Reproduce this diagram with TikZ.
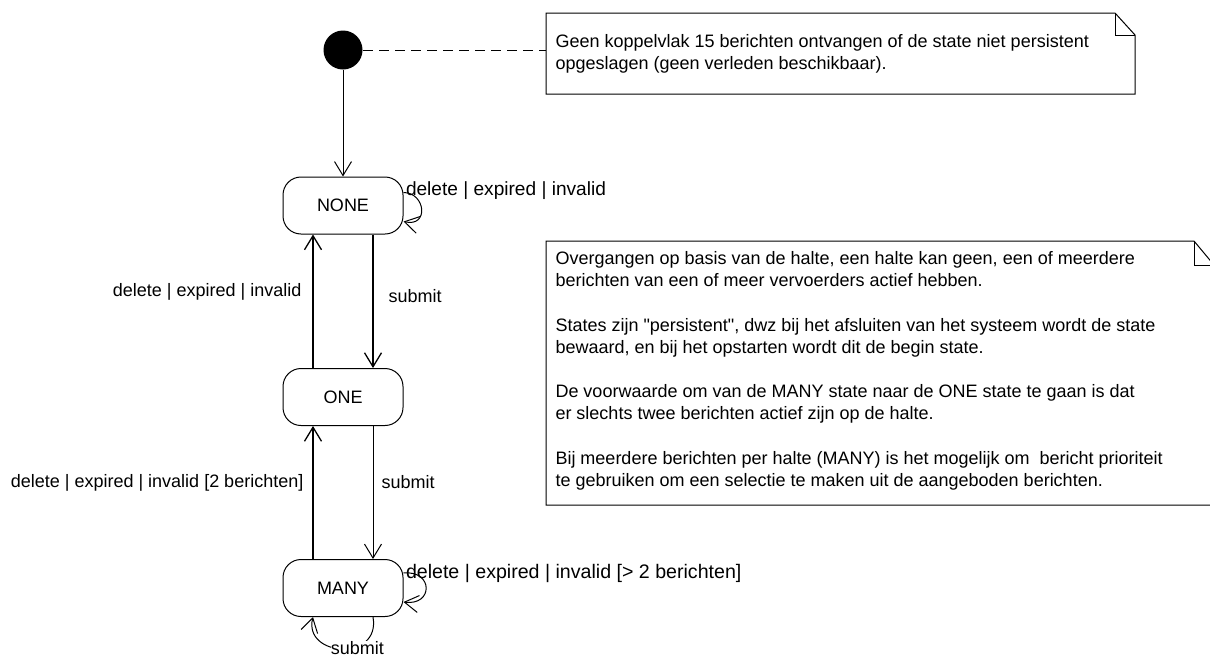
\documentclass[tikz,border=0pt]{standalone}
\usepackage{fontspec}
\setmainfont{Liberation Sans}
\newfontfamily\quotefont{Liberation Sans}
\usepackage{tikz}
\usetikzlibrary{arrows.meta}
\tikzset{
  >={Straight Barb[length=14pt,width=17pt]}
}

\begin{document}
\begin{tikzpicture}[x=1pt,y=-1pt,line width=1pt,
    state/.style={rectangle,rounded corners=18pt,draw=black,minimum width=120pt,minimum height=57pt,font=\fontsize{18}{22}\selectfont},
    lbl/.style={inner sep=0pt,font=\fontsize{18}{22}\selectfont},
    note/.style={inner sep=0pt,anchor=north west},
    notetext/.style={inner sep=0pt,anchor=north west,align=left,font=\fontsize{18}{22.2}\selectfont}]
        \useasboundingbox (0,0) rectangle (1210,659);

        \node (init) at (343, 50) [circle,fill=black,minimum size=39pt,inner sep=0pt] {};
        \node (none) at (343, 205.5) [state] {NONE};
        \node (one) at (343, 397) [state] {ONE};
        \node (many) at (343, 588) [state] {MANY};

        % notes
        \node (note1) at (546, 13) [note,minimum width=588pt,minimum height=80pt] {};
        \node (note1txt) at (555, 34) [notetext] {Geen koppelvlak 15 berichten ontvangen of de state niet persistent\\opgeslagen (geen verleden beschikbaar).};
        \draw (note1.north west) -- ([xshift=-20pt]note1.north east) -- ([yshift=-22pt]note1.north east) -- (note1.south east) -- (note1.south west) -- cycle;
        \draw ([xshift=-20pt]note1.north east) |- ([yshift=-22pt]note1.north east);

        \node (note2) at (546, 241) [note,minimum width=667pt,minimum height=263pt] {};
        \node (note2txt) at (555, 251) [notetext] {Overgangen op basis van de halte, een halte kan geen, een of meerdere\\berichten van een of meer vervoerders actief hebben.\\ \\States zijn {\quotefont"}persistent{\quotefont"}, dwz bij het afsluiten van het systeem wordt de state\\bewaard, en bij het opstarten wordt dit de begin state.\\ \\De voorwaarde om van de MANY state naar de ONE state te gaan is dat\\er slechts twee berichten actief zijn op de halte.\\ \\Bij meerdere berichten per halte (MANY) is het mogelijk om \ bericht prioriteit\\te gebruiken om een selectie te maken uit de aangeboden berichten.};
        \draw (note2.north west) -- ([xshift=-20pt]note2.north east) -- ([yshift=-24pt]note2.north east) -- (note2.south east) -- (note2.south west) -- cycle;
        \draw ([xshift=-20pt]note2.north east) |- ([yshift=-24pt]note2.north east);

        \draw[dash pattern=on 10pt off 6pt] (init) -- (note1.west |- init);

        % transitions
        \draw[->] (init) -- (none);
        \draw[->,line width=1.3pt] ([xshift=30pt]none.south) -- ([xshift=30pt]one.north)
            node[lbl,midway,anchor=west,xshift=15pt,yshift=5pt] {submit};
        \draw[->,line width=1.3pt] ([xshift=-30pt]one.north) -- ([xshift=-30pt]none.south)
            node[lbl,midway,anchor=east,xshift=-11pt,yshift=9pt] {delete | expired | invalid};
        \draw[->] ([xshift=30pt]one.south) -- ([xshift=30pt]many.north)
            node[lbl,midway,anchor=west,xshift=8pt,yshift=10pt] {submit};
        \draw[->,line width=1.3pt] ([xshift=-30pt]many.north) -- ([xshift=-30pt]one.south)
            node[lbl,midway,anchor=east,xshift=-9pt,yshift=10pt] {delete | expired | invalid [2 berichten]};

        \draw[->] ([yshift=13pt]none.east) .. controls +(22,0) and +(26,6) .. ([yshift=-16pt]none.east)
            node[lbl,pos=0,anchor=west,xshift=2pt,yshift=2pt,font=\fontsize{19.1}{22}\selectfont] {delete | expired | invalid};
        \draw[->] ([yshift=15pt]many.east) .. controls +(30,-3) and +(30,4) .. ([yshift=-14pt]many.east)
            node[lbl,pos=0,anchor=west,xshift=2pt,font=\fontsize{19.6}{22}\selectfont] {delete | expired | invalid [> 2 berichten]};
        \draw[->] ([xshift=30pt]many.south) .. controls +(8,45) and +(-10,40) .. ([xshift=-30pt]many.south)
            node[lbl,pos=0.4,fill=white,xshift=5pt] {submit};
    \end{tikzpicture}
\end{document}
